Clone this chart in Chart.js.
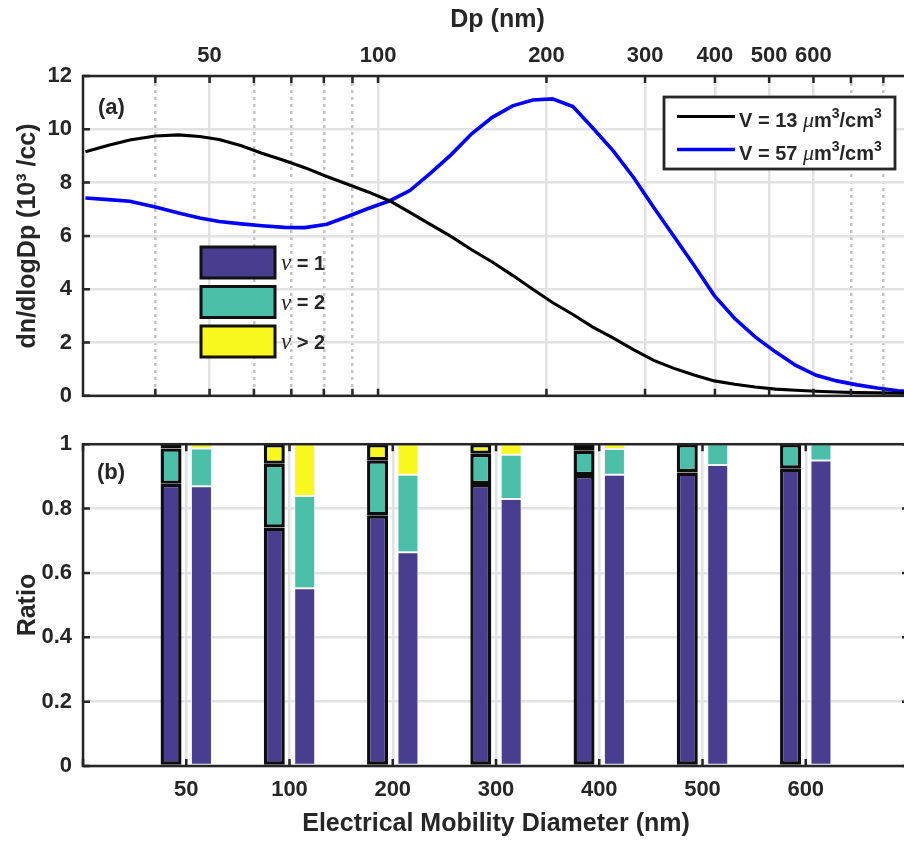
<!DOCTYPE html>
<html>
<head>
<meta charset="utf-8">
<script src="https://cdn.jsdelivr.net/npm/chart.js@4.4.1/dist/chart.umd.min.js"></script>
<style>
  html, body { margin: 0; padding: 0; background: #fff; overflow: hidden; }
  canvas { display: block; }
</style>
</head>
<body>
<canvas id="chartDist" width="920" height="420"></canvas>
<canvas id="chartRatio" width="920" height="422"></canvas>
<script>
// ---- panel (a): number size distributions ----
var diameters = [30, 33, 36, 40, 44, 48, 52, 57, 62, 68, 74, 81, 88, 96, 105, 114, 124, 135, 147, 160,
  174, 189, 205, 223, 242, 263, 286, 311, 338, 367, 399, 434, 472, 513, 558, 607, 660, 718, 780, 850, 920];
var distLow = [9.16, 9.40, 9.60, 9.75, 9.79, 9.73, 9.62, 9.38, 9.10, 8.83, 8.56, 8.23, 7.95, 7.65, 7.31, 6.88,
  6.43, 5.98, 5.48, 5.02, 4.52, 4.00, 3.50, 3.05, 2.58, 2.17, 1.73, 1.33, 1.03, 0.78, 0.56, 0.43, 0.33, 0.25,
  0.21, 0.17, 0.14, 0.12, 0.11, 0.10, 0.09];
var distHigh = [7.42, 7.36, 7.30, 7.08, 6.86, 6.67, 6.54, 6.45, 6.38, 6.32, 6.31, 6.44, 6.72, 7.03, 7.32, 7.70,
  8.35, 9.04, 9.83, 10.45, 10.88, 11.10, 11.14, 10.85, 10.05, 9.20, 8.20, 7.07, 5.98, 4.90, 3.76, 2.90, 2.21,
  1.65, 1.14, 0.77, 0.56, 0.41, 0.29, 0.19, 0.15];
var volumes = [13, 57];
var lineColors = ['#000000', '#0000ff'];

var dpTicks = [40, 50, 60, 70, 80, 90, 100, 200, 300, 400, 500, 600, 700, 800];
var dpLabelled = [50, 100, 200, 300, 400, 500, 600];

// ---- panel (b): charge-state fractions ----
var sizeLabels = ['50', '100', '200', '300', '400', '500', '600'];
var lowNu1 = [0.877, 0.741, 0.779, 0.876, 0.904, 0.912, 0.924];
var lowNu2 = [0.110, 0.198, 0.171, 0.094, 0.076, 0.088, 0.076];
var lowNu3 = [0.013, 0.061, 0.050, 0.030, 0.020, 0.000, 0.000];
var highNu1 = [0.869, 0.552, 0.664, 0.830, 0.905, 0.935, 0.949];
var highNu2 = [0.118, 0.287, 0.241, 0.137, 0.080, 0.065, 0.051];
var highNu3 = [0.013, 0.161, 0.095, 0.033, 0.015, 0.000, 0.000];
var chargeLabels = ['= 1', '= 2', '> 2'];
var chargeColors = ['#483d8f', '#4bbfa8', '#f8f81e'];

var TEXT = '#262626', GRID = '#e2e2e2', MINOR = '#c4c4c4';
var FAMILY = '"Liberation Sans", Arial, Helvetica, sans-serif';
var SERIF = '"Liberation Serif", "DejaVu Serif", serif';
var tickFont = { family: FAMILY, size: 22, weight: 'bold' };
var titleFont = { family: FAMILY, size: 25, weight: 'bold' };

function drawRuns(ctx, x, y, runs) {
  runs.forEach(function (r) {
    ctx.font = r.f;
    ctx.fillText(r.t, x, y + (r.dy || 0));
    x += ctx.measureText(r.t).width;
  });
}

// box round the plot area + inward tick marks on all four sides
function drawFrame(chart) {
  var ctx = chart.ctx, a = chart.chartArea, L = 7;
  var xs = chart.scales.x, ys = chart.scales.y;
  ctx.save();
  ctx.strokeStyle = TEXT;
  ctx.lineWidth = 2.5;
  ctx.beginPath();
  xs.ticks.forEach(function (t, i) {
    var p = xs.getPixelForTick(i);
    ctx.moveTo(p, a.top); ctx.lineTo(p, a.top + L);
    ctx.moveTo(p, a.bottom); ctx.lineTo(p, a.bottom - L);
  });
  ys.ticks.forEach(function (t, i) {
    var p = ys.getPixelForTick(i);
    ctx.moveTo(a.left, p); ctx.lineTo(a.left + L, p);
    ctx.moveTo(a.right, p); ctx.lineTo(a.right - L, p);
  });
  ctx.stroke();
  ctx.strokeRect(a.left, a.top, a.right - a.left, a.bottom - a.top);
  ctx.restore();
}

var panelA = {
  id: 'panelA',
  afterDraw: function (chart) {
    var ctx = chart.ctx, a = chart.chartArea;
    drawFrame(chart);
    ctx.save();
    ctx.fillStyle = TEXT;
    ctx.textBaseline = 'middle';
    ctx.font = 'bold 22px ' + FAMILY;
    ctx.fillText('(a)', a.left + 15, a.top + 32);

    // charge-state colour key
    chargeColors.forEach(function (c, i) {
      var x = a.left + 118, y = a.top + 171 + i * 39.5;
      ctx.fillStyle = c;
      ctx.fillRect(x, y, 74, 31);
      ctx.lineWidth = 3;
      ctx.strokeStyle = '#111';
      ctx.strokeRect(x, y, 74, 31);
      ctx.fillStyle = TEXT;
      drawRuns(ctx, x + 80, y + 17, [
        { t: '\u03bd', f: 'italic 23px ' + SERIF },
        { t: ' ' + chargeLabels[i], f: 'bold 20px ' + FAMILY }
      ]);
    });

    // line legend
    var bx = a.right - 248, by = a.top + 21, bw = 231, bh = 72;
    ctx.fillStyle = '#fff';
    ctx.fillRect(bx, by, bw, bh);
    ctx.lineWidth = 2.8;
    ctx.strokeStyle = TEXT;
    ctx.strokeRect(bx, by, bw, bh);
    ctx.textBaseline = 'alphabetic';
    chart.data.datasets.forEach(function (ds, i) {
      var y = by + 19.5 + i * 33;
      ctx.strokeStyle = ds.borderColor;
      ctx.lineWidth = ds.borderWidth;
      ctx.beginPath(); ctx.moveTo(bx + 13, y); ctx.lineTo(bx + 71, y); ctx.stroke();
      ctx.fillStyle = TEXT;
      var b = 'bold 20px ' + FAMILY, s = 'bold 14px ' + FAMILY;
      drawRuns(ctx, bx + 75, y + 10.5, [
        { t: 'V = ' + volumes[i] + ' ', f: b },
        { t: '\u03bc', f: 'italic 22px ' + SERIF },
        { t: 'm', f: b }, { t: '3', f: s, dy: -9 },
        { t: '/cm', f: b }, { t: '3', f: s, dy: -9 }
      ]);
    });
    ctx.restore();
  }
};

var panelB = {
  id: 'panelB',
  afterDraw: function (chart) {
    var ctx = chart.ctx, a = chart.chartArea;
    drawFrame(chart);
    ctx.save();
    ctx.fillStyle = TEXT;
    ctx.textBaseline = 'middle';
    ctx.font = 'bold 22px ' + FAMILY;
    ctx.fillText('(b)', a.left + 14, a.top + 29);
    ctx.restore();
  }
};

function isLabelled(tick) { return tick && dpLabelled.indexOf(tick.value) >= 0; }

new Chart(document.getElementById('chartDist').getContext('2d'), {
  type: 'line',
  data: {
    datasets: [distLow, distHigh].map(function (vals, k) {
      return {
        label: 'V = ' + volumes[k],
        data: diameters.map(function (d, i) { return { x: d, y: vals[i] }; }),
        borderColor: lineColors[k], borderWidth: k ? 3.6 : 3.1,
        pointRadius: 0, tension: 0, fill: false
      };
    })
  },
  options: {
    responsive: false, animation: false,
    layout: { padding: { left: 0, right: 8, top: 0, bottom: 12 } },
    plugins: { legend: { display: false }, tooltip: { enabled: false } },
    scales: {
      x: {
        type: 'logarithmic', position: 'top', min: 29.7, max: 900,
        afterBuildTicks: function (s) { s.ticks = dpTicks.map(function (v) { return { value: v }; }); },
        afterFit: function (s) { s.height = 76; },
        ticks: { autoSkip: false, maxRotation: 0, padding: 7, color: TEXT, font: tickFont,
          callback: function (v) { return dpLabelled.indexOf(v) >= 0 ? String(v) : ''; } },
        grid: { drawTicks: false, lineWidth: 2.5,
          color: function (c) { return c.tick && !isLabelled(c.tick) ? MINOR : GRID; } },
        border: { display: false,
          dash: function (c) { return c.tick && !isLabelled(c.tick) ? [3, 4] : []; } },
        title: { display: true, text: 'Dp (nm)', color: TEXT, font: titleFont, padding: { top: 5, bottom: 0 } }
      },
      y: {
        min: 0, max: 12,
        afterFit: function (s) { s.width = 83; },
        ticks: { stepSize: 2, padding: 11, color: TEXT, font: tickFont },
        grid: { drawTicks: false, color: GRID, lineWidth: 2.5 },
        border: { display: false },
        title: { display: true, text: 'dn/dlogDp (10\u00b3 /cc)', color: TEXT, font: titleFont, padding: { top: 13, bottom: 0 } }
      }
    }
  },
  plugins: [panelA]
});

var stacks = [
  { id: 'low', parts: [lowNu1, lowNu2, lowNu3], border: '#0d0d0d', width: 3.4 },
  { id: 'high', parts: [highNu1, highNu2, highNu3], border: '#f4f4f4', width: 1 }
];
var barSets = [];
stacks.forEach(function (s) {
  s.parts.forEach(function (vals, k) {
    barSets.push({
      label: s.id + ' \u03bd ' + chargeLabels[k], stack: s.id,
      data: [null].concat(vals, [null]),
      backgroundColor: chargeColors[k], borderColor: s.border, borderWidth: s.width,
      borderSkipped: false, barPercentage: 0.69, categoryPercentage: 0.589
    });
  });
});

new Chart(document.getElementById('chartRatio').getContext('2d'), {
  type: 'bar',
  data: { labels: [''].concat(sizeLabels, ['']), datasets: barSets },
  options: {
    responsive: false, animation: false,
    layout: { padding: { left: 0, right: 8, top: 14, bottom: 0 } },
    plugins: { legend: { display: false }, tooltip: { enabled: false } },
    scales: {
      x: {
        stacked: true, offset: false,
        afterFit: function (s) { s.height = 76; },
        ticks: { autoSkip: false, maxRotation: 0, padding: 11, color: TEXT, font: tickFont },
        grid: { drawTicks: false, color: GRID, lineWidth: 2.5, offset: false },
        border: { display: false },
        title: { display: true, text: 'Electrical Mobility Diameter (nm)', color: TEXT, font: titleFont, padding: { top: 0, bottom: 3 } }
      },
      y: {
        stacked: true, min: 0, max: 1,
        afterFit: function (s) { s.width = 83; },
        ticks: { stepSize: 0.2, padding: 11, color: TEXT, font: tickFont,
          callback: function (v) { return String(+v.toFixed(1)); } },
        grid: { drawTicks: false, color: GRID, lineWidth: 2.5 },
        border: { display: false },
        title: { display: true, text: 'Ratio', color: TEXT, font: titleFont, padding: { top: 13, bottom: 0 } }
      }
    }
  },
  plugins: [panelB]
});
</script>
</body>
</html>
